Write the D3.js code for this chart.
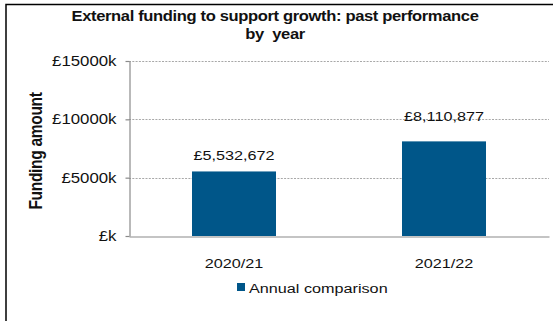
<!DOCTYPE html>
<html>
<head>
<meta charset="utf-8">
<script src="https://cdn.jsdelivr.net/npm/d3@7"></script>
<style>
    body { margin: 0; background: #fff; }
    svg { display: block; }
    text { font-family: "Liberation Sans", Arial, sans-serif; fill: #111; }
</style>
</head>
<body>
<svg id="chart"></svg>
<script>
var categories = ['2020/21', '2021/22'];
var fundingValues = [5532672, 8110877];
var yTickValues = [0, 5000000, 10000000, 15000000];
var yTickLabels = ['£k', '£5000k', '£10000k', '£15000k'];
var titleLines = ['External funding to support growth: past performance', 'by  year'];
var yTitle = 'Funding amount';
var seriesName = 'Annual comparison';

var WIDTH = 553,
    HEIGHT = 321;
var STRETCH = 1.2; // the source picture is stretched sideways, so text is too
var PLOT = {
    LEFT: 129,
    RIGHT: 549,
    TOP: 61,
    BOTTOM: 236,
};
var BARCOLOR = '#005689';
var LABELLIFT = [11, 20];

var svg = d3.select('#chart')
    .attr('width', WIDTH)
    .attr('height', HEIGHT);

var stretch = function (x, y) {
    return 'translate(' + x + ',' + y + ') scale(' + STRETCH + ',1)';
};

var xScale = d3.scaleBand()
    .domain(categories)
    .range([PLOT.LEFT, PLOT.RIGHT])
    .paddingInner(0.6)
    .paddingOuter(0.3);
var yScale = d3.scaleLinear()
    .domain([0, 15000000])
    .range([PLOT.BOTTOM, PLOT.TOP]);

// outer frame (only top and left edges are visible)
svg.append('rect')
    .attr('x', 6)
    .attr('y', 4.5)
    .attr('width', 700)
    .attr('height', 500)
    .style('fill', 'none')
    .style('stroke', '#000')
    .style('stroke-width', 1.5);

// title
svg.append('g')
    .selectAll('text')
    .data(titleLines)
    .enter()
    .append('text')
    .attr('transform', function (d, i) { return stretch(275, 21 + i * 18); })
    .style('text-anchor', 'middle')
    .style('font-weight', 'bold')
    .style('font-size', '13.8px')
    .style('letter-spacing', '-0.3px')
    .style('white-space', 'pre')
    .text(function (d) { return d; });

// gridlines
svg.append('g')
    .selectAll('line')
    .data(yTickValues.slice(1))
    .enter()
    .append('line')
    .attr('x1', PLOT.LEFT)
    .attr('x2', PLOT.RIGHT)
    .attr('y1', function (d) { return Math.round(yScale(d)) + 0.5; })
    .attr('y2', function (d) { return Math.round(yScale(d)) + 0.5; })
    .style('stroke', '#a8a8a8')
    .style('stroke-dasharray', '2,1.3');

// bars
svg.append('g')
    .selectAll('rect')
    .data(fundingValues)
    .enter()
    .append('rect')
    .attr('x', function (d, i) { return xScale(categories[i]); })
    .attr('y', function (d) { return yScale(d); })
    .attr('width', xScale.bandwidth())
    .attr('height', function (d) { return PLOT.BOTTOM - yScale(d); })
    .style('fill', BARCOLOR);

// value labels
svg.append('g')
    .selectAll('text')
    .data(fundingValues)
    .enter()
    .append('text')
    .attr('transform', function (d, i) {
        return stretch(xScale(categories[i]) + xScale.bandwidth() / 2, yScale(d) - LABELLIFT[i]);
    })
    .style('text-anchor', 'middle')
    .style('font-size', '13.5px')
    .text(function (d) { return '£' + d3.format(',')(d); });

// y axis
var yAxis = d3.axisLeft(yScale)
    .tickValues(yTickValues)
    .tickFormat(function (d, i) { return yTickLabels[i]; })
    .tickSize(4)
    .tickSizeOuter(0)
    .tickPadding(9);
var yAxisG = svg.append('g')
    .attr('transform', 'translate(' + (PLOT.LEFT + 0.5) + ',0)')
    .call(yAxis);
yAxisG.selectAll('text')
    .style('font-size', '14px')
    .attr('transform', function () {
        var x = +d3.select(this).attr('x');
        return stretch(x, 0);
    })
    .attr('x', 0);

// x axis
var xAxis = d3.axisBottom(xScale)
    .tickSize(0)
    .tickSizeOuter(0)
    .tickPadding(22);
var xAxisG = svg.append('g')
    .attr('transform', 'translate(0,' + (PLOT.BOTTOM + 0.5) + ')')
    .call(xAxis);
xAxisG.selectAll('text')
    .style('font-size', '13.5px')
    .attr('transform', function () {
        var y = +d3.select(this).attr('y');
        return stretch(0, y);
    })
    .attr('y', 0);

svg.selectAll('.domain, .tick line')
    .style('stroke', '#8a8a8a')
    .style('stroke-width', 1.2);
svg.selectAll('.tick text').style('fill', '#111');

// y axis title
svg.append('text')
    .attr('transform', 'translate(42,151) scale(' + STRETCH + ',1) rotate(-90)')
    .style('text-anchor', 'middle')
    .style('font-weight', 'bold')
    .style('font-size', '15.5px')
    .style('letter-spacing', '-0.3px')
    .text(yTitle);

// legend
var legend = svg.append('g')
    .attr('transform', 'translate(237,283)');
legend.append('rect')
    .attr('width', 8)
    .attr('height', 8)
    .style('fill', BARCOLOR);
legend.append('text')
    .attr('transform', stretch(12, 9.5))
    .style('font-size', '13.5px')
    .text(seriesName);
</script>
</body>
</html>
